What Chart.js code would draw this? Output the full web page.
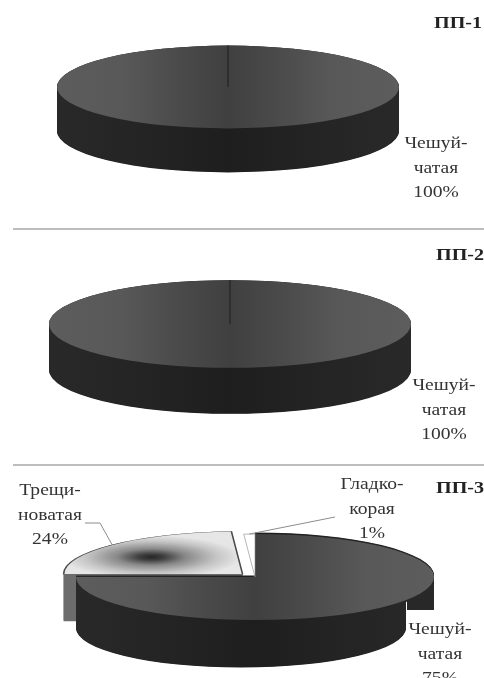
<!DOCTYPE html>
<html><head><meta charset="utf-8">
<script src="https://cdn.jsdelivr.net/npm/chart.js@4"></script>
<style>
html,body{margin:0;padding:0;background:#fff;width:484px;height:678px;overflow:hidden}
#page{position:relative;width:484px;height:678px;overflow:hidden;filter:blur(.6px)}
canvas{position:absolute}
.t{position:absolute;font-family:"Liberation Serif",serif;font-size:17px;color:#333;line-height:24.5px;text-align:center;transform:translateX(-50%) scaleX(1.15);white-space:nowrap}
.h{position:absolute;font-family:"Liberation Serif",serif;font-weight:bold;font-size:17.5px;color:#222;white-space:nowrap;transform-origin:0 50%;transform:scaleX(1.15)}
.rule{position:absolute;left:13px;right:0;height:2px;background:#bdbdbd}
</style></head><body><div id="page"></div>
<script>
const panelTitles = ['ПП-1', 'ПП-2', 'ПП-3'];
const categories1 = ['Чешуйчатая'];
const values1 = [100];
const categories2 = ['Чешуйчатая'];
const values2 = [100];
const categories3 = ['Чешуйчатая', 'Трещиноватая', 'Гладкокорая'];
const values3 = [75, 24, 1];

const layouts = [
  {cx:228, cy:87, r:171, k:.242, depth:44, titleX:434, titleY:12,
   labels:[{x:436, y:131, lines:['Чешуй-','чатая','100%']}]},
  {cx:230, cy:324, r:181, k:.242, depth:46, titleX:436, titleY:244,
   labels:[{x:444, y:373, lines:['Чешуй-','чатая','100%']}]},
  {cx:255, cy:577, r:179, k:.24, depth:51, inset:14, block:{w:27, depth:33}, offsets:[0,68,0],
   titleX:436, titleY:477, wedge:true,
   leaders:[{slice:1, via:[[100,523],[85,523]]},{slice:2, via:[[335,517]]}],
   labels:[{x:50, y:478, lines:['Трещи-','новатая','24%']},
           {x:372, y:472, lines:['Гладко-','корая','1%']},
           {x:440, y:617, lines:['Чешуй-','чатая','75%']}]}
];
const ruleTops = [228, 464];
const CW = 460, CH = 250;
const page = document.getElementById('page');

function topFill(ctx, el){
  const g = ctx.createLinearGradient(el.x-el.outerRadius,0,el.x+el.outerRadius,0);
  [[0,'#5d5d5d'],[.2,'#585858'],[.36,'#4a4a4a'],[.5,'#404040'],[.64,'#4a4a4a'],[.8,'#585858'],[1,'#5d5d5d']]
    .forEach(s=>g.addColorStop(s[0],s[1]));
  return g;
}
function wedgeFill(ctx, chart, r){
  const cx = chart.width/2, cy = chart.height/2;
  const g = ctx.createRadialGradient(cx-.51*r, cy-.40*r, 0, cx-.51*r, cy-.40*r, r*.5);
  [[0,'#262626'],[.14,'#3e3e3e'],[.38,'#888'],[.72,'#c4c4c4'],[1,'#e6e6e6']].forEach(s=>g.addColorStop(s[0],s[1]));
  return g;
}
const pie3d = {
  id:'pie3d',
  beforeDatasetsDraw(chart,args,o){
    const c = chart.ctx, L = o.layout, arcs = chart.getDatasetMeta(0).data;
    c.save();
    c.translate(0,chart.height/2); c.scale(1,L.k); c.translate(0,-chart.height/2);
    const stack = (el,col,depth,shift,rad,from)=>{
      const off = (el.options.offset||0)/4, mid=(el.startAngle+el.endAngle)/2;
      c.fillStyle = col;
      for(let d=depth;d>=from;d-=.5){
        c.beginPath();
        const x = el.x+Math.cos(mid)*off+shift, y = el.y+Math.sin(mid)*off+d/L.k;
        c.moveTo(x,y); c.arc(x,y,rad,el.startAngle,el.endAngle); c.closePath(); c.fill();
      }
    };
    const wall = c.createLinearGradient(arcs[0].x-L.r,0,arcs[0].x+L.r,0);
    [[0,'#292929'],[.3,'#232323'],[.5,'#1e1e1e'],[.7,'#232323'],[1,'#292929']].forEach(s=>wall.addColorStop(s[0],s[1]));
    if(arcs[1]) stack(arcs[1],'#6c6c6c',47,0,L.r,0);
    const inset = L.inset||0;
    if(inset){
      const big = 4000, el = arcs[0];
      c.save();
      c.beginPath();
      c.rect(el.x,el.y-big,big,big);
      c.rect(el.x-big,el.y,big*2,big);
      c.clip();
      stack(el,wall,L.depth,-inset,L.r-inset,1);
      c.restore();
      stack(el,wall,2,0,L.r,-1.5);
    } else {
      stack(arcs[0],wall,L.depth,0,L.r,0);
    }
    if(L.block){
      c.fillStyle = wall;
      c.fillRect(arcs[0].x+L.r-L.block.w, arcs[0].y, L.block.w, L.block.depth/L.k);
    }
  },
  afterDatasetsDraw(chart,args,o){
    const c = chart.ctx, L = o.layout, arcs = chart.getDatasetMeta(0).data;
    const full = arcs[0].circumference >= Math.PI*2-1e-6;
    if(full){
      c.strokeStyle='#1c1c1c'; c.lineWidth=1;
      c.beginPath(); c.moveTo(arcs[0].x,arcs[0].y);
      c.lineTo(arcs[0].x+Math.cos(arcs[0].startAngle)*L.r, arcs[0].y+Math.sin(arcs[0].startAngle)*L.r);
      c.setTransform(chart.currentDevicePixelRatio,0,0,chart.currentDevicePixelRatio,0,0);
      c.stroke();
    }
    c.restore();
    (L.leaders||[]).forEach(l=>{
      const el = arcs[l.slice], mid=(el.startAngle+el.endAngle)/2, off=(el.options.offset||0)/4;
      const ox = L.cx-CW/2, oy = L.cy-CH/2;
      const x = el.x+Math.cos(mid)*(off+L.r), y = el.y+Math.sin(mid)*(off+L.r)*L.k;
      c.save(); c.strokeStyle='#8c8c8c'; c.lineWidth=1;
      c.beginPath(); c.moveTo(x,y);
      l.via.forEach(p=>c.lineTo(p[0]-ox,p[1]-oy));
      c.stroke(); c.restore();
    });
  }
};

function addPanel(i, labels, values){
  const L = layouts[i];
  const cv = document.createElement('canvas');
  cv.width = CW; cv.height = CH;
  cv.style.cssText = `left:${L.cx-CW/2}px;top:${L.cy-CH/2}px;width:${CW}px;height:${CH}px`;
  page.appendChild(cv);
  new Chart(cv,{
    type:'pie',
    data:{labels,datasets:[{
      data:values,
      radius:L.r,
      backgroundColor(ctx){
        const el = ctx.element; if(!el || ctx.type!=='data') return '#4c4c4c';
        const chart = ctx.chart, c = chart.ctx, n = ctx.dataIndex;
        if(n===0) return topFill(c,{x:chart.width/2,outerRadius:L.r});
        if(n===1) return wedgeFill(c,chart,L.r);
        return '#ffffff';
      },
      borderColor:['#2a2a2a','#4a4a4a','#8a8a8a'],
      borderWidth:values.length>1?[0,1.6,1]:0,
      offset:L.offsets||0
    }]},
    options:{
      responsive:false,animation:false,devicePixelRatio:1,
      layout:{padding:0},
      plugins:{legend:{display:false},tooltip:{enabled:false},title:{display:false},pie3d:{layout:L}},
      events:[]
    },
    plugins:[pie3d]
  });
  const h = document.createElement('div');
  h.className='h'; h.textContent=panelTitles[i];
  h.style.left=L.titleX+'px'; h.style.top=L.titleY+'px';
  page.appendChild(h);
  L.labels.forEach(b=>{
    const d=document.createElement('div'); d.className='t';
    d.style.left=b.x+'px'; d.style.top=b.y+'px';
    d.innerHTML=b.lines.join('<br>');
    page.appendChild(d);
  });
}
addPanel(0,categories1,values1);
addPanel(1,categories2,values2);
addPanel(2,categories3,values3);
ruleTops.forEach(y=>{const r=document.createElement('div');r.className='rule';r.style.top=y+'px';page.appendChild(r);});
</script></body></html>
